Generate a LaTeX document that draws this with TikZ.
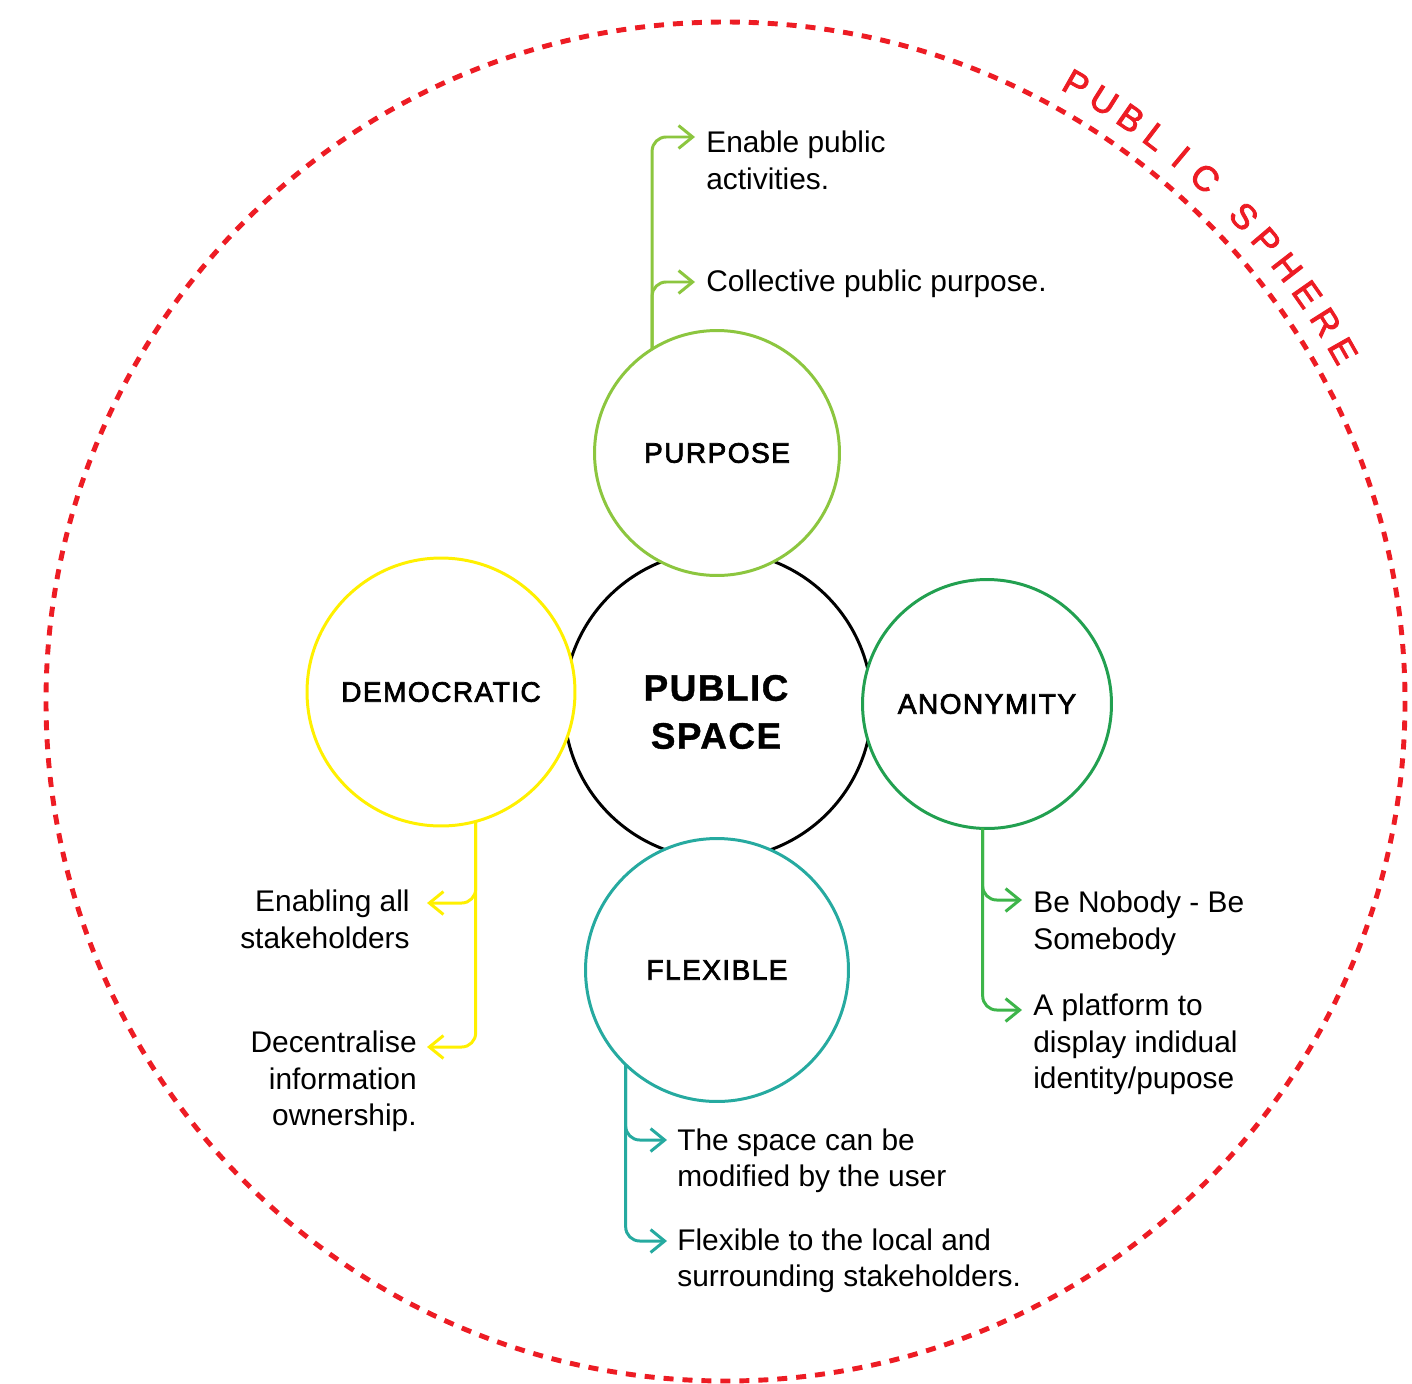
\documentclass[tikz,border=0pt]{standalone}
\usepackage{fontspec}
\setmainfont{Liberation Sans}
\newfontfamily\capsfont[LetterSpace=5,FakeBold=2.5]{Liberation Sans}
\newfontfamily\arcfont[FakeBold=2.5]{Liberation Sans}
\newfontfamily\headfont[LetterSpace=4,FakeBold=1]{Liberation Sans}
\usetikzlibrary{arrows.meta}
\usepackage{xcolor}

\definecolor{pgreen}{RGB}{140,198,63}
\definecolor{dyellow}{RGB}{255,240,0}
\definecolor{agreen}{RGB}{34,160,80}
\definecolor{alink}{RGB}{61,181,74}
\definecolor{fteal}{RGB}{38,170,160}
\definecolor{sred}{RGB}{237,28,36}

\tikzset{
  topic/.style={circle,draw=#1,line width=1.7pt,fill=white,inner sep=0pt,outer sep=0pt,
    font=\capsfont\fontsize{16}{19}\selectfont},
  link/.style={draw=#1,line width=1.7pt,rounded corners=8pt,
    -{Straight Barb[length=8pt,width=13pt]}},
  note/.style={font=\fontsize{17}{20.5}\selectfont,inner sep=0pt},
  sphere/.style={draw=sred,line width=2.8pt,dash pattern=on 5.7pt off 5.1pt},
}

\begin{document}
\begin{tikzpicture}[x=0.02cm,y=-0.02cm]
\useasboundingbox (0,0) rectangle (1412,1383);

% outer dashed ring and its curved title
\coordinate (sph) at (725.5,701.5);
\draw[sphere] (sph) circle (679.5);
\foreach \ch/\a in {P/60.4,U/57.8,B/55.2,L/52.7,I/50.1,C/47.5,S/43.1,P/40.4,H/37.7,E/35.0,R/32.3,E/29.6}
  \path (sph) ++(-\a:710) node[text=sred,rotate=\a-90,font=\arcfont\fontsize{20}{20}\selectfont] {\ch};

% centre and the four topics
\node[circle,draw=black,line width=1.7pt,minimum size=6.16cm,inner sep=0pt] (main) at (718,705) {};
\node[align=center,font=\headfont\bfseries\fontsize{21}{27.3}\selectfont] (title) at (716,712) {PUBLIC\\SPACE};
\node[topic=pgreen,minimum size=4.9cm] (purpose) at (717,453) {PURPOSE};
\node[topic=dyellow,minimum size=5.36cm] (democratic) at (441,692) {DEMOCRATIC};
\node[topic=agreen,minimum size=4.98cm] (anonymity) at (987,704) {ANONYMITY};
\node[topic=fteal,minimum size=5.26cm] (flexible) at (717,970) {FLEXIBLE};

% arrow ends
\coordinate (pt1) at (695,137);
\coordinate (pt2) at (695,282);
\coordinate (dt1) at (427,903);
\coordinate (dt2) at (427,1047);
\coordinate (at1) at (1022,900);
\coordinate (at2) at (1022,1010);
\coordinate (ft1) at (667,1140);
\coordinate (ft2) at (667,1241);

% notes (placed by the baseline of their last line)
\node[note,anchor=base west,align=left] (pn1) at (706,189) {Enable public\\activities.};
\node[note,anchor=base west,align=left] (pn2) at (706,291) {Collective public purpose.};
\node[note,anchor=base east,align=right] (dn1) at (410,948) {Enabling all\\stakeholders};
\node[note,anchor=base east,align=right] (dn2) at (417,1125) {Decentralise\\information\\ownership.};
\node[note,anchor=base west,align=left] (an1) at (1033,949) {Be Nobody - Be\\Somebody};
\node[note,anchor=base west,align=left] (an2) at (1033,1088) {A platform to\\display indidual\\identity/pupose};
\node[note,anchor=base west,align=left] (fn1) at (677,1186) {The space can be\\modified by the user};
\node[note,anchor=base west,align=left] (fn2) at (677,1286) {Flexible to the local and\\surrounding stakeholders.};

% connectors
\foreach \t in {pt1,pt2} \draw[link=pgreen] (purpose.122) |- (\t);
\foreach \t in {dt1,dt2} \draw[link=dyellow] (democratic.-75) |- (\t);
\foreach \t in {at1,at2} \draw[link=alink] (anonymity.-92) |- (\t);
\foreach \t in {ft1,ft2} \draw[link=fteal] (flexible.226) |- (\t);

\end{tikzpicture}
\end{document}
